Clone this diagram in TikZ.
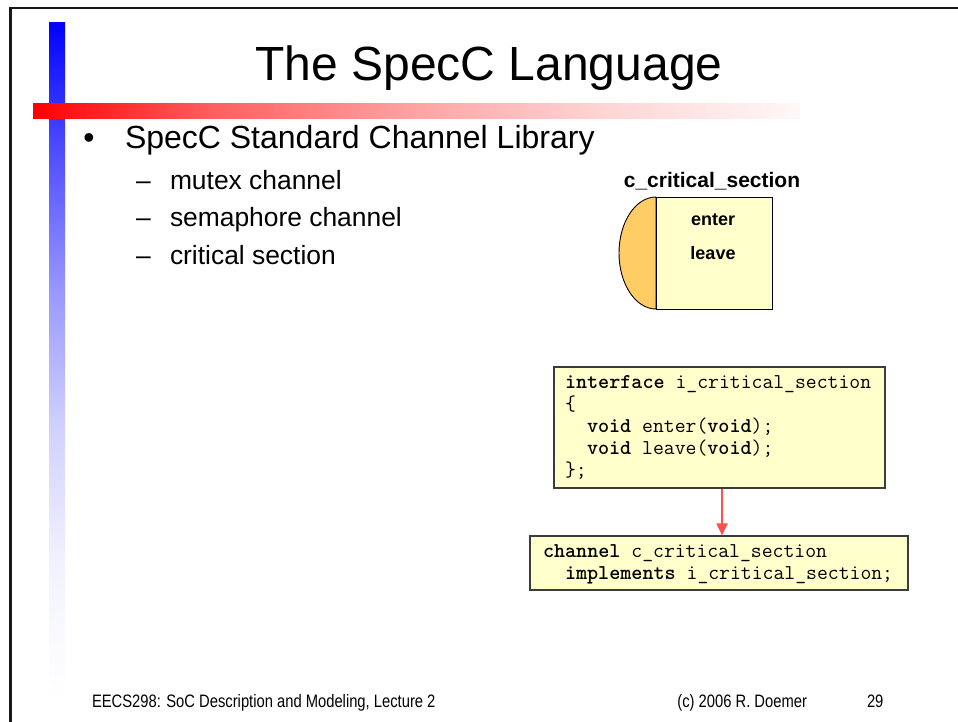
\documentclass[tikz,border=0pt]{standalone}
\usepackage{fontspec}
\setmainfont{Liberation Sans}
\newfontfamily\footfont{Liberation Sans}[FakeStretch=0.82]
\usetikzlibrary{arrows.meta}

\definecolor{paleyellow}{RGB}{255,255,204}
\definecolor{halforange}{RGB}{255,204,102}
\definecolor{arrowred}{RGB}{255,80,80}
\definecolor{boxline}{RGB}{60,60,60}

% side bar: blue at the top, fading to white
\pgfdeclareverticalshading{bluebar}{100bp}{%
  color(0bp)=(white); color(25bp)=(white); color(35bp)=(blue!5);
  color(45bp)=(blue!18); color(55bp)=(blue!40); color(65bp)=(blue!68);
  color(75bp)=(blue); color(100bp)=(blue)}
% title rule: red on the left, fading to white
\pgfdeclarehorizontalshading{redbar}{100bp}{%
  color(0bp)=(red); color(25bp)=(red); color(37bp)=(red!62);
  color(50bp)=(red!36); color(62bp)=(red!17); color(75bp)=(red!3);
  color(100bp)=(red!3)}

\tikzset{
  plain/.style={inner sep=0pt, outer sep=0pt},
  titletext/.style={plain, font=\fontsize{48}{56}\selectfont},
  lvlone/.style={plain, font=\fontsize{32}{38}\selectfont},
  lvltwo/.style={plain, font=\fontsize{26.4}{32}\selectfont},
  symlabel/.style={plain, font=\fontsize{21}{25}\selectfont\bfseries},
  methodlabel/.style={plain, font=\fontsize{18}{22}\selectfont\bfseries},
  footer/.style={plain, font=\fontsize{18}{22}\selectfont\footfont},
  codeline/.style={plain, anchor=base west, font=\fontsize{21.1}{22}\selectfont\ttfamily},
  codebox/.style={draw=boxline, fill=paleyellow, line width=1.2pt, inner sep=0pt},
  chanbox/.style={draw=black, fill=paleyellow, line width=0.9pt, inner sep=0pt},
  implarrow/.style={draw=arrowred, line width=2pt,
    -{Triangle[length=12pt,width=11pt]}},
}

\begin{document}
\begin{tikzpicture}[x=1pt, y=-1pt]
\useasboundingbox (0,0) rectangle (958,721);

% page frame
\draw[line width=2.4pt, black!90] (10.3,722) -- (10.3,7.8) -- (959,7.8);

% decorative bars
\shade[shading=bluebar] (49,22) rectangle (65,700);
\shade[shading=redbar] (33,103) rectangle (800,118);

% title
\node[titletext, anchor=base] (title) at (489,80) {The SpecC Language};

% bullet list
\node[lvlone, anchor=base] (bul) at (89,148) {•};
\node[lvlone, anchor=base west] (lib) at (125,148) {SpecC Standard Channel Library};
\node[lvltwo, anchor=base] (d1) at (143.5,189) {–};
\node[lvltwo, anchor=base west] (mutex) at (170,189) {mutex channel};
\node[lvltwo, anchor=base] (d2) at (143.5,226.5) {–};
\node[lvltwo, anchor=base west] (sema) at (170,226.5) {semaphore channel};
\node[lvltwo, anchor=base] (d3) at (143.5,264) {–};
\node[lvltwo, anchor=base west] (crit) at (170,264) {critical section};

% channel symbol
\node[symlabel, anchor=base] (symname) at (712,187) {c\_critical\_section};
\filldraw[fill=halforange, draw=black, line width=0.9pt]
  (656,197) arc[start angle=-90, end angle=-270, x radius=37, y radius=56] -- cycle;
\node[chanbox, minimum width=116pt, minimum height=112pt] (csym) at (714,253) {};
\node[methodlabel, anchor=base] (enter) at (713,225) {enter};
\node[methodlabel, anchor=base] (leave) at (713,259) {leave};

% interface declaration
\node[codebox, minimum width=331pt, minimum height=121pt] (iface) at (719.5,427.5) {};
\node[codeline] (i1) at (565,388) {\textbf{interface} i\_critical\_section};
\node[codeline] (i2) at (565,410) {\{};
\node[codeline] (i3) at (587,432) {\textbf{void} enter(\textbf{void});};
\node[codeline] (i4) at (587,454) {\textbf{void} leave(\textbf{void});};
\node[codeline] (i5) at (565,476) {\};};

% channel declaration
\node[codebox, minimum width=378pt, minimum height=54pt] (chan) at (719,563) {};
\node[codeline] (c1) at (543,557) {\textbf{channel} c\_critical\_section};
\node[codeline] (c2) at (565,579) {\textbf{implements} i\_critical\_section;};

% implements relation
\draw[implarrow] ([xshift=2.5pt]iface.south) -- ([xshift=3pt]chan.north);

% footer
\node[footer, anchor=base west] (foot) at (92,707) {EECS298: SoC Description and Modeling, Lecture 2};
\node[footer, anchor=base east] (copy) at (807,707) {(c) 2006 R. Doemer};
\node[footer, anchor=base west] (pagenum) at (867,707) {29};
\end{tikzpicture}
\end{document}
